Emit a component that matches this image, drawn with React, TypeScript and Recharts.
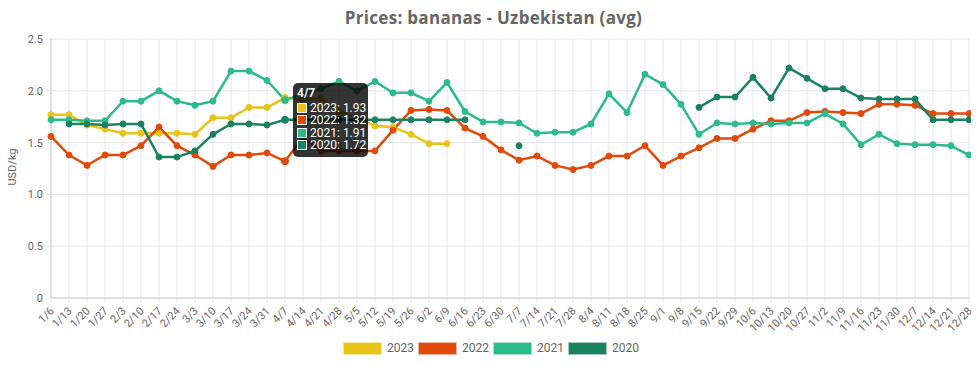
import React from "react";
import { LineChart, Line, XAxis, YAxis, CartesianGrid, Tooltip, Legend } from "recharts";

const weeks = [
  "1/6", "1/13", "1/20", "1/27", "2/3", "2/10", "2/17", "2/24", "3/3", "3/10", "3/17", "3/24", "3/31",
  "4/7", "4/14", "4/21", "4/28", "5/5", "5/12", "5/19", "5/26", "6/2", "6/9", "6/16", "6/23", "6/30",
  "7/7", "7/14", "7/21", "7/28", "8/4", "8/11", "8/18", "8/25", "9/1", "9/8", "9/15", "9/22", "9/29",
  "10/6", "10/13", "10/20", "10/27", "11/2", "11/9", "11/16", "11/23", "11/30", "12/7", "12/14", "12/21", "12/28",
];

const y2023 = [
  1.77, 1.77, 1.67, 1.63, 1.59, 1.59, 1.59, 1.59, 1.58, 1.74, 1.74, 1.84, 1.84,
  1.93, 1.92, 1.93, 1.8, 1.74, 1.66, 1.65, 1.58, 1.49, 1.49, null, null, null,
  null, null, null, null, null, null, null, null, null, null, null, null, null,
  null, null, null, null, null, null, null, null, null, null, null, null, null,
];

const y2022 = [
  1.56, 1.38, 1.28, 1.38, 1.38, 1.47, 1.65, 1.47, 1.38, 1.27, 1.38, 1.38, 1.4,
  1.32, 1.55, 1.42, 1.42, 1.42, 1.42, 1.62, 1.81, 1.82, 1.81, 1.64, 1.56, 1.43,
  1.33, 1.37, 1.28, 1.24, 1.28, 1.37, 1.37, 1.47, 1.28, 1.37, 1.45, 1.54, 1.54,
  1.63, 1.71, 1.71, 1.79, 1.8, 1.79, 1.78, 1.87, 1.87, 1.86, 1.78, 1.78, 1.78,
];

const y2021 = [
  1.72, 1.72, 1.71, 1.71, 1.9, 1.9, 2.0, 1.9, 1.86, 1.9, 2.19, 2.19, 2.1,
  1.91, 1.97, 2.02, 2.09, 2.0, 2.09, 1.98, 1.98, 1.9, 2.08, 1.8, 1.7, 1.7,
  1.69, 1.59, 1.6, 1.6, 1.68, 1.97, 1.79, 2.16, 2.06, 1.87, 1.58, 1.69, 1.68,
  1.69, 1.68, 1.69, 1.69, 1.78, 1.68, 1.48, 1.58, 1.49, 1.48, 1.48, 1.47, 1.38,
];

const y2020 = [
  null, 1.68, 1.68, 1.67, 1.68, 1.68, 1.36, 1.36, 1.42, 1.58, 1.68, 1.68, 1.67,
  1.72, 1.72, 1.72, 1.72, 1.72, 1.72, 1.72, 1.72, 1.72, 1.72, 1.72, null, null,
  1.47, null, null, null, null, null, null, null, null, null, 1.84, 1.94, 1.94,
  2.13, 1.93, 2.22, 2.12, 2.02, 2.02, 1.93, 1.92, 1.92, 1.92, 1.72, 1.72, 1.72,
];

const yTicks = [0, 0.5, 1, 1.5, 2, 2.5];

const series = [
  { key: "2023", values: y2023, color: "#E8C418" },
  { key: "2022", values: y2022, color: "#E2490A" },
  { key: "2021", values: y2021, color: "#2CBB8A" },
  { key: "2020", values: y2020, color: "#1A8260" },
];

const data = weeks.map((w, i) => {
  const row: any = { week: w };
  series.forEach((s) => (row[s.key] = s.values[i]));
  return row;
});

const XTick = ({ x, y, payload }: any) => (
  <g transform={`translate(${x + 1},${y + 4})`}>
    <text x={0} y={0} dy="0.35em" textAnchor="end" transform="rotate(-45)" fontSize={11} fill="#666">
      {payload.value}
    </text>
  </g>
);

const TipBox = ({ payload, label }: any) => {
  if (!payload || !payload.length) return null;
  return (
    <div
      style={{
        background: "rgba(0,0,0,0.8)",
        borderRadius: 5,
        width: 75,
        height: 74,
        boxSizing: "border-box",
        padding: "3px 4px",
        color: "#fff",
        fontSize: 12,
        fontFamily: "Roboto",
        whiteSpace: "nowrap",
      }}
    >
      <div style={{ fontWeight: "bold", lineHeight: "14px", marginBottom: 2 }}>{label}</div>
      {payload.map((p: any) => (
        <div key={p.dataKey} style={{ display: "flex", alignItems: "center", height: 12.3, lineHeight: "12px" }}>
          <span
            style={{
              display: "inline-block",
              flex: "none",
              width: 10,
              height: 10,
              boxSizing: "border-box",
              background: p.color,
              border: "1px solid #fff",
              marginRight: 3,
            }}
          />
          <span>
            {p.name}: {Number(p.value).toFixed(2)}
          </span>
        </div>
      ))}
    </div>
  );
};

const LegendBox = () => (
  <div
    style={{
      display: "flex",
      alignItems: "center",
      height: 22,
      paddingLeft: 335,
      fontFamily: "Roboto",
      fontSize: 12,
      color: "#666",
    }}
  >
    {series.map((s) => (
      <div key={s.key} style={{ display: "flex", alignItems: "center", width: 75 }}>
        <span
          style={{
            display: "inline-block",
            width: 39,
            height: 13,
            boxSizing: "border-box",
            background: s.color,
            border: "1px solid rgba(255,255,255,0.6)",
            marginRight: 5,
          }}
        />
        <span>{s.key}</span>
      </div>
    ))}
  </div>
);

export default function App() {
  return (
    <div style={{ position: "relative", width: 971, height: 357, fontFamily: "Roboto" }}>
      <div
        style={{
          position: "absolute",
          top: 0,
          left: 0,
          width: 971,
          textAlign: "center",
          fontFamily: "'Open Sans'",
          fontWeight: 700,
          fontSize: 17,
          letterSpacing: 0.3,
          lineHeight: "20px",
          color: "#666",
        }}
      >
        Prices: bananas - Uzbekistan (avg)
      </div>
      <div
        style={{
          position: "absolute",
          left: 4,
          top: 159,
          transform: "translate(-50%, -50%) rotate(-90deg)",
          fontSize: 11,
          color: "#666",
          whiteSpace: "nowrap",
        }}
      >
        USD/kg
      </div>
      <LineChart width={971} height={357} data={data} margin={{ top: 31, right: 10, bottom: 6, left: 8 }}>
        <CartesianGrid stroke="#e6e6e6" />
        <XAxis
          dataKey="week"
          interval={0}
          height={39}
          tick={<XTick />}
          tickSize={5}
          tickMargin={2}
          stroke="#c8c8c8"
          tickLine={{ stroke: "#e6e6e6" }}
        />
        <YAxis
          width={35}
          domain={[0, 2.5]}
          ticks={yTicks}
          tickFormatter={(v: number) => (v === 0 ? "0" : v.toFixed(1))}
          tick={{ fontSize: 11, fill: "#666" }}
          tickSize={5}
          tickMargin={3}
          stroke="#c8c8c8"
          tickLine={{ stroke: "#e6e6e6" }}
        />
        <Tooltip
          active
          defaultIndex={13}
          position={{ x: 285, y: 75 }}
          cursor={false}
          content={<TipBox />}
          isAnimationActive={false}
          wrapperStyle={{ outline: "none" }}
        />
        <Legend verticalAlign="bottom" height={22} content={<LegendBox />} wrapperStyle={{ left: 0, width: 971 }} />
        {series.map((s) => (
          <Line
            key={s.key}
            dataKey={s.key}
            name={s.key}
            stroke={s.color}
            strokeWidth={2.5}
            dot={{ r: 3, fill: s.color, stroke: s.color, strokeWidth: 1 }}
            activeDot={{ r: 3.5, fill: s.color, stroke: s.color, strokeWidth: 1 }}
            isAnimationActive={false}
            connectNulls={false}
          />
        ))}
      </LineChart>
    </div>
  );
}
